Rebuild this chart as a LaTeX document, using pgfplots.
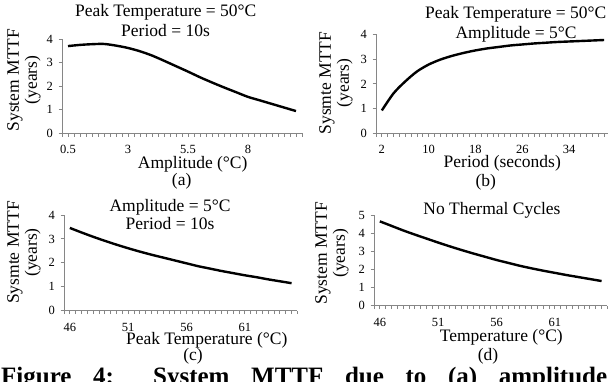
\documentclass[border=0pt]{standalone}
\usepackage{fontspec}
\setmainfont{Liberation Serif}
\usepackage{pgfplots}
\pgfplotsset{compat=1.18}
\definecolor{axgray}{HTML}{868686}
\newcommand\fs[1]{\fontsize{#1bp}{#1bp}\selectfont}
\newcommand\lab{\fontsize{17.5bp}{18bp}\selectfont}
\pgfplotsset{
  base/.style={
    scale only axis, axis lines=left,
    axis line style={-, draw=axgray, line width=0.9bp},
    tick align=outside, major tick length=3.5bp, minor tick length=3.5bp,
    every tick/.style={draw=axgray, line width=0.9bp},
    xticklabels={},
    xticklabel style={font=\fs{12.5}, anchor=base, yshift=-17bp},
    yticklabel style={font=\fs{12.5}, anchor=east, inner sep=0pt, xshift=-5.5bp},
    ymin=0, clip=false,
  },
  curve/.style={draw=black, line width=2.4bp, smooth, mark=none},
}
\begin{document}
\begin{tikzpicture}[x=1bp,y=1bp]
\useasboundingbox (0,0) rectangle (608,381);
\clip (0,0) rectangle (608,381);
% ---------------- (a)
\begin{axis}[base, at={(62bp,247.5bp)}, anchor=south west,
  width=240bp, height=94.5bp, xmin=0.25, xmax=10.25, ymax=4,
  ytick={0,1,2,3,4}, yticklabels={0,1,2,3,4},
  xtick={0.25,0.5,...,10.25},
  extra x ticks={0.5,3,5.5,8}, extra x tick labels={0.5,3,5.5,8}]
\addplot[curve] coordinates {(0.5,3.70) (1.0,3.75) (1.5,3.78) (2.0,3.79) (2.5,3.72)
 (3.0,3.62) (3.5,3.48) (4.0,3.30) (4.5,3.08) (5.0,2.85) (5.5,2.62) (6.0,2.38)
 (6.5,2.16) (7.0,1.95) (7.5,1.75) (8.0,1.55) (8.5,1.40) (9.0,1.25) (9.5,1.10) (10.0,0.95)};
\end{axis}
% ---------------- (b)
\begin{axis}[base, at={(376bp,247.5bp)}, anchor=south west,
  width=234bp, height=99.2bp, xmin=1, xmax=41, ymax=4,
  ytick={0,1,2,3,4}, yticklabels={0,1,2,3,4},
  xtick={1,2,...,41},
  extra x ticks={2,10,18,26,34}, extra x tick labels={2,10,18,26,34}]
\addplot[curve] coordinates {(2,0.93) (4,1.62) (6,2.10) (8,2.50) (10,2.78) (12,2.98)
 (14,3.13) (16,3.25) (18,3.35) (20,3.43) (22,3.49) (24,3.55) (26,3.59) (28,3.63)
 (30,3.66) (32,3.69) (34,3.71) (36,3.73) (38,3.75) (40,3.77)};
\end{axis}
% ---------------- (c)
\begin{axis}[base, at={(64bp,70.3bp)}, anchor=south west,
  width=233.4bp, height=95.7bp, xmin=45.5, xmax=65.5, ymax=4,
  ytick={0,1,2,3,4}, yticklabels={0,1,2,3,4},
  xtick={45.5,46,...,65.5},
  extra x ticks={46,51,56,61}, extra x tick labels={46,51,56,61}]
\addplot[curve] coordinates {(46,3.46) (47,3.27) (48,3.09) (49,2.92) (50,2.76) (51,2.61)
 (52,2.47) (53,2.34) (54,2.22) (55,2.10) (56,1.98) (57,1.86) (58,1.76) (59,1.66)
 (60,1.57) (61,1.48) (62,1.40) (63,1.31) (64,1.23) (65,1.15)};
\end{axis}
% ---------------- (d)
\begin{axis}[base, at={(374bp,75.3bp)}, anchor=south west,
  width=233.4bp, height=90.7bp, xmin=45.5, xmax=65.5, ymax=5,
  ytick={0,1,2,3,4,5}, yticklabels={0,1,2,3,4,5},
  xtick={45.5,46,...,65.5},
  extra x ticks={46,51,56,61}, extra x tick labels={46,51,56,61}]
\addplot[curve] coordinates {(46,4.65) (47,4.40) (48,4.15) (49,3.92) (50,3.70) (51,3.48)
 (52,3.27) (53,3.07) (54,2.88) (55,2.70) (56,2.52) (57,2.36) (58,2.20) (59,2.06)
 (60,1.93) (61,1.81) (62,1.69) (63,1.58) (64,1.47) (65,1.36)};
\end{axis}
% ---------------- texts
\begin{scope}[every node/.style={inner sep=0pt, font=\lab}]
\node[anchor=base] at (165.7,364.3) {Peak Temperature = 50°C};
\node[anchor=base] at (165.5,345) {Period = 10s};
\node[rotate=90, align=center] at (24,301) {System MTTF\\(years)};
\node[anchor=base] at (192.7,212.7) {Amplitude (°C)};
\node[anchor=base] at (181.7,196) {(a)};

\node[anchor=base] at (515.7,362.7) {Peak Temperature = 50°C};
\node[anchor=base] at (516,342.7) {Amplitude = 5°C};
\node[rotate=90, align=center] at (336,298) {Sysmte MTTF\\(years)};
\node[anchor=base] at (502.3,213.5) {Period (seconds)};
\node[anchor=base] at (485.7,195) {(b)};

\node[anchor=base] at (170,170) {Amplitude = 5°C};
\node[anchor=base] at (170,151.7) {Period = 10s};
\node[rotate=90, align=center] at (24,128.5) {Sysmte MTTF\\(years)};
\node[anchor=base] at (206.7,37) {Peak Temperature (°C)};
\node[anchor=base] at (193,20.5) {(c)};

\node[anchor=base] at (492,166.5) {No Thermal Cycles};
\node[rotate=90, align=center] at (332,127.7) {System MTTF\\(years)};
\node[anchor=base] at (501.3,39.5) {Temperature (°C)};
\node[anchor=base] at (488,20.5) {(d)};

\node[anchor=base west, font=\bfseries\fs{25}] at (1,-3)
  {\makebox[606bp][s]{Figure 4: System MTTF due to (a) amplitude}};
\end{scope}
\end{tikzpicture}
\end{document}
